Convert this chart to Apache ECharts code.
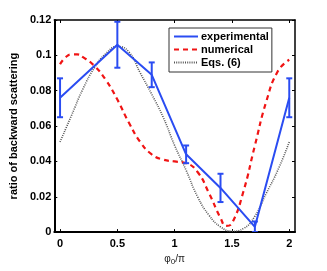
<!DOCTYPE html>
<html>
<head>
<meta charset="utf-8">
<script src="https://cdn.jsdelivr.net/npm/echarts@6/dist/echarts.min.js"></script>
<style>
html,body{margin:0;padding:0;background:#fff;}
#c{width:327px;height:271px;}
</style>
</head>
<body>
<div id="c"></div>
<script>
// Experimental data (with error bars)
const phiExp = [0, 0.5, 0.8, 1.1, 1.4, 1.7, 2];
const ratioExp = [0.076, 0.106, 0.089, 0.044, 0.025, 0.003, 0.076];
const errExp = [0.011, 0.013, 0.007, 0.005, 0.008, 0.003, 0.011];

// Numerical curve
const phiNum = [0, 0.05, 0.1, 0.15, 0.2, 0.3, 0.4, 0.5, 0.6, 0.7, 0.8, 0.9, 1.0, 1.1, 1.2, 1.3, 1.4, 1.45, 1.5, 1.6, 1.7, 1.8, 1.9, 2.0];
const ratioNum = [0.095, 0.099, 0.1005, 0.1005, 0.099, 0.094, 0.086, 0.075, 0.062, 0.051, 0.044, 0.041, 0.040, 0.039, 0.034, 0.022, 0.008, 0.0035, 0.005, 0.023, 0.049, 0.074, 0.091, 0.0975];

// Eqs. (6) curve
const phiEq = [0, 0.1, 0.2, 0.3, 0.4, 0.5, 0.6, 0.7, 0.8, 0.9, 1.0, 1.1, 1.2, 1.3, 1.4, 1.5, 1.6, 1.7, 1.8, 1.9, 2.0];
const ratioEq = [0.051, 0.066, 0.081, 0.093, 0.101, 0.105, 0.102, 0.090, 0.078, 0.065, 0.049, 0.035, 0.020, 0.0095, 0.003, 0.0005, 0.002, 0.009, 0.022, 0.035, 0.051];

// Tick labels
const xTicks = [0, 0.5, 1, 1.5, 2];
const yTicks = [0, 0.02, 0.04, 0.06, 0.08, 0.1, 0.12];

const FONT = "'Liberation Sans', Arial, Helvetica, sans-serif";
const BLUE = '#2a4cf2';
const RED = '#f01414';

const zip = (a, b) => a.map((v, i) => [v, b[i]]);
const errData = phiExp.map((x, i) => [x, ratioExp[i], errExp[i]]);

const chart = echarts.init(document.getElementById('c'), null, {renderer: 'canvas'});

const fmtY = v => String(Number(v.toFixed(2)));

const xBase = {
  type: 'value', min: -0.05, max: 2.05,
  splitLine: {show: false},
  axisLine: {show: true, onZero: false, lineStyle: {color: '#000', width: 2}},
  axisTick: {show: true, inside: true, length: 3, customValues: xTicks, lineStyle: {color: '#000', width: 1}}
};
const yBase = {
  type: 'value', min: 0, max: 0.12, interval: 0.02,
  splitLine: {show: false},
  axisLine: {show: true, onZero: false, lineStyle: {color: '#000', width: 2}},
  axisTick: {show: true, inside: true, length: 3, lineStyle: {color: '#000', width: 1}}
};

chart.setOption({
  animation: false,
  backgroundColor: '#fff',
  grid: {left: 42, top: 20, right: 32, bottom: 33, show: false},
  legend: {
    orient: 'vertical', left: 169, top: 28,
    padding: [3, 3, 4, 4], itemGap: 2, itemWidth: 24, itemHeight: 12,
    backgroundColor: '#fff', borderColor: '#333', borderWidth: 1, borderRadius: 0,
    itemStyle: {opacity: 0},
    textStyle: {fontFamily: FONT, fontWeight: 'bold', fontSize: 11, color: '#000', padding: [0, 0, 0, -2]},
    data: ['experimental', 'numerical', 'Eqs. (6)']
  },
  xAxis: [
    Object.assign({}, xBase, {
      position: 'bottom',
      axisLabel: {customValues: xTicks, formatter: v => String(v), color: '#000', fontFamily: FONT, fontWeight: 'bold', fontSize: 11, margin: 6},
      name: '{a|φ}{s|0}{a|/π}', nameLocation: 'middle', nameGap: 9,
      nameTextStyle: {
        rich: {
          a: {fontFamily: FONT, fontSize: 10, color: '#222'},
          s: {fontFamily: FONT, fontSize: 8, color: '#222', padding: [6, 0, 0, 0]}
        }
      }
    }),
    Object.assign({}, xBase, {position: 'top', axisLine: {show: true, onZero: false, lineStyle: {color: '#000', width: 1.5}}, axisLabel: {show: false}})
  ],
  yAxis: [
    Object.assign({}, yBase, {
      position: 'left',
      axisLabel: {formatter: fmtY, color: '#000', fontFamily: FONT, fontWeight: 'bold', fontSize: 11, margin: 3},
      name: 'ratio of backward scattering', nameLocation: 'middle', nameGap: 29, nameRotate: 90,
      nameTextStyle: {fontFamily: FONT, fontWeight: 'bold', fontSize: 11, color: '#000'}
    }),
    Object.assign({}, yBase, {position: 'right', axisLine: {show: true, onZero: false, lineStyle: {color: '#000', width: 1.5}}, axisLabel: {show: false}})
  ],
  series: [
    {
      name: 'Eqs. (6)', type: 'line', data: zip(phiEq, ratioEq), smooth: true,
      symbol: 'none', z: 2, clip: true,
      lineStyle: {color: '#555', width: 1.6, type: [1, 1.2]},
      itemStyle: {color: '#555', opacity: 0}
    },
    {
      name: 'numerical', type: 'line', data: zip(phiNum, ratioNum), smooth: true,
      symbol: 'none', z: 3, clip: true,
      lineStyle: {color: RED, width: 2.2, type: [5, 4]},
      itemStyle: {color: RED, opacity: 0}
    },
    {
      name: 'experimental', type: 'line', data: zip(phiExp, ratioExp),
      symbol: 'none', z: 4, clip: true,
      lineStyle: {color: BLUE, width: 2},
      itemStyle: {color: BLUE, opacity: 0}
    },
    {
      name: 'errorbars', type: 'custom', data: errData, z: 5, clip: true,
      renderItem: function (params, api) {
        const x = api.value(0), y = api.value(1), e = api.value(2);
        const top = api.coord([x, y + e]);
        const bot = api.coord([x, y - e]);
        const hw = 3;
        const st = {stroke: BLUE, lineWidth: 2};
        return {
          type: 'group',
          children: [
            {type: 'line', shape: {x1: top[0], y1: top[1], x2: bot[0], y2: bot[1]}, style: st},
            {type: 'line', shape: {x1: top[0] - hw, y1: top[1], x2: top[0] + hw, y2: top[1]}, style: st},
            {type: 'line', shape: {x1: bot[0] - hw, y1: bot[1], x2: bot[0] + hw, y2: bot[1]}, style: st}
          ]
        };
      }
    }
  ]
});
</script>
</body>
</html>
